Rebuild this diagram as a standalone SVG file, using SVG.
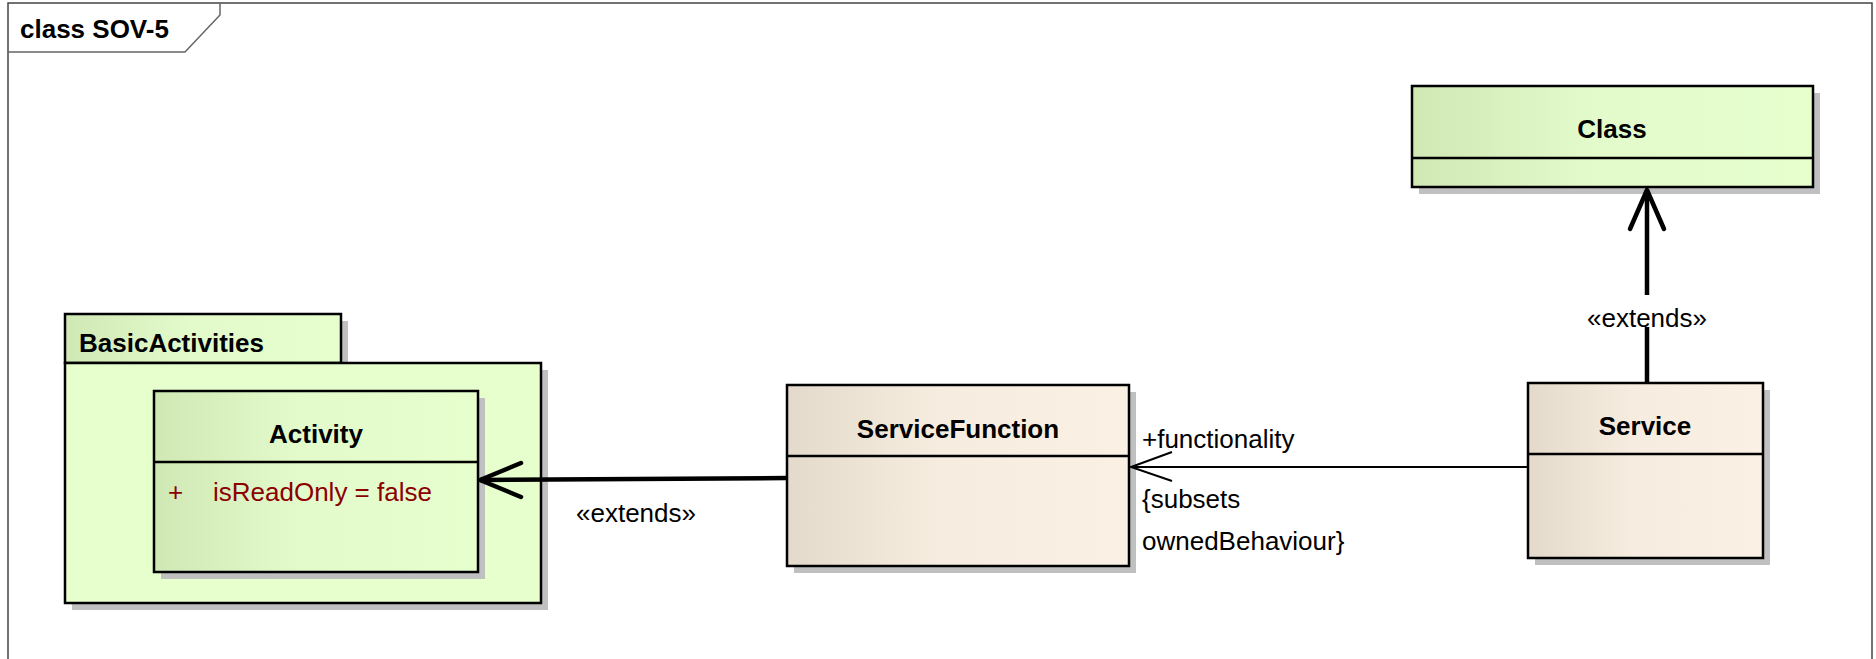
<svg xmlns="http://www.w3.org/2000/svg" width="1876" height="659" viewBox="0 0 1876 659">
<defs>
<linearGradient id="gGreen" x1="0" y1="0" x2="1" y2="0">
<stop offset="0" stop-color="#D0E8B4"/>
<stop offset="0.45" stop-color="#E3FACB"/>
<stop offset="1" stop-color="#E6FFCD"/>
</linearGradient>
<linearGradient id="gBeige" x1="0" y1="0" x2="1" y2="0">
<stop offset="0" stop-color="#E4DACB"/>
<stop offset="0.45" stop-color="#F6EDE0"/>
<stop offset="1" stop-color="#FAF0E3"/>
</linearGradient>
<style>
.shadow{fill:#C0C0C0;}
.box{stroke:#000;stroke-width:2.5;}
.div{stroke:#000;stroke-width:2.5;}
.name{font-family:"Liberation Sans",Arial,sans-serif;font-weight:bold;font-size:26px;fill:#000;text-anchor:middle;}
.lbl{font-family:"Liberation Sans",Arial,sans-serif;font-size:26px;fill:#000;}
.attr{font-family:"Liberation Sans",Arial,sans-serif;font-size:26px;fill:#8B0000;}
.thick{stroke:#000;stroke-width:4.5;fill:none;stroke-linecap:round;stroke-linejoin:round;}
.thin{stroke:#000;stroke-width:2;fill:none;}
</style>
</defs>
<rect width="1876" height="659" fill="#FFFFFF"/>

<g id="frame">
<path d="M8,662 L8,3 L1872,3 L1872,662" fill="none" stroke="#444" stroke-width="1.5"/>
<path d="M8,52 L185,52 L220,15 L220,3" fill="none" stroke="#666" stroke-width="1.5"/>
<text x="20" y="38" class="lbl" style="font-weight:bold">class SOV-5</text>
</g>

<g id="BasicActivities">
<rect class="shadow" x="72" y="370" width="476" height="240"/>
<rect class="shadow" x="72" y="321" width="276" height="49"/>
<rect x="65" y="314" width="276" height="49" fill="url(#gGreen)" class="box"/>
<rect x="65" y="363" width="476" height="240" fill="#E6FFCD" class="box"/>
<text x="79" y="352" class="lbl" style="font-weight:bold">BasicActivities</text>
</g>

<g id="Activity">
<rect class="shadow" x="161" y="398" width="324" height="181"/>
<rect x="154" y="391" width="324" height="181" fill="url(#gGreen)" class="box"/>
<line x1="154" y1="462" x2="478" y2="462" class="div"/>
<text x="316" y="443" class="name">Activity</text>
<text x="168" y="501" class="attr">+</text>
<text x="213" y="501" class="attr">isReadOnly = false</text>
</g>

<g id="ServiceFunction">
<rect class="shadow" x="794" y="392" width="342" height="181"/>
<rect x="787" y="385" width="342" height="181" fill="url(#gBeige)" class="box"/>
<line x1="787" y1="456" x2="1129" y2="456" class="div"/>
<text x="958" y="438" class="name">ServiceFunction</text>
</g>

<g id="Service">
<rect class="shadow" x="1535" y="390" width="235" height="175"/>
<rect x="1528" y="383" width="235" height="175" fill="url(#gBeige)" class="box"/>
<line x1="1528" y1="454" x2="1763" y2="454" class="div"/>
<text x="1645" y="435" class="name">Service</text>
</g>

<g id="Class">
<rect class="shadow" x="1419" y="93" width="401" height="101"/>
<rect x="1412" y="86" width="401" height="101" fill="url(#gGreen)" class="box"/>
<line x1="1412" y1="158" x2="1813" y2="158" class="div"/>
<text x="1612" y="138" class="name">Class</text>
</g>

<g id="connectors">
<line x1="787" y1="478" x2="480" y2="480" class="thick" style="stroke-linecap:butt"/>
<polyline points="521,463 480,480 521,497" class="thick"/>
<text x="576" y="522" class="lbl">«extends»</text>

<line x1="1528" y1="467" x2="1131" y2="467" class="thin"/>
<polyline points="1172,452 1131,467 1172,481" class="thin"/>
<text x="1142" y="448" class="lbl">+functionality</text>
<text x="1142" y="508" class="lbl">{subsets</text>
<text x="1142" y="550" class="lbl">ownedBehaviour}</text>

<line x1="1647" y1="383" x2="1647" y2="327" class="thick" style="stroke-linecap:butt"/>
<line x1="1647" y1="295" x2="1647" y2="190" class="thick" style="stroke-linecap:butt"/>
<polyline points="1630,229 1647,190 1664,229" class="thick"/>
<text x="1647" y="327" class="lbl" style="text-anchor:middle">«extends»</text>
</g>
</svg>
